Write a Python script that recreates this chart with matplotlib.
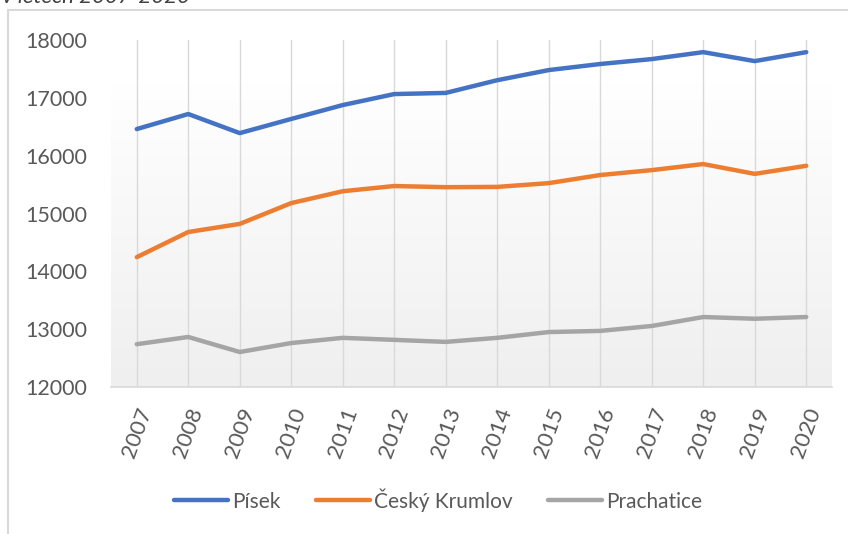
import numpy as np
import matplotlib.pyplot as plt
from matplotlib.lines import Line2D

# data
years = ['2007', '2008', '2009', '2010', '2011', '2012', '2013',
         '2014', '2015', '2016', '2017', '2018', '2019', '2020']
pisek = [16460, 16720, 16390, 16635, 16875, 17065, 17085,
         17305, 17480, 17585, 17670, 17790, 17635, 17790]
cesky_krumlov = [14245, 14680, 14820, 15180, 15385, 15475, 15455,
                 15460, 15525, 15665, 15750, 15855, 15685, 15825]
prachatice = [12740, 12865, 12605, 12760, 12850, 12815, 12780,
              12850, 12950, 12970, 13055, 13210, 13180, 13210]
series_names = ['Písek', 'Český Krumlov', 'Prachatice']
colors = ['#4472C4', '#ED7D31', '#A5A5A5']

plt.rcParams['font.family'] = ['Lato', 'DejaVu Sans']
txt = '#595959'

fig = plt.figure(figsize=(8.48, 5.34), dpi=100)
W, H = 848, 534

# chart area border (top + left visible)
fig.add_artist(Line2D([8 / W, 8 / W], [0, 1 - 10 / H], color='#d9d9d9', lw=1.5,
                      transform=fig.transFigure))
fig.add_artist(Line2D([8 / W, 1], [1 - 10 / H, 1 - 10 / H], color='#d9d9d9', lw=1.5,
                      transform=fig.transFigure))
# title above the chart box, cut off by the top edge as in the source
fig.text(2 / W, 1 + 3 / H, 'v letech 2007-2020', fontsize=16, style='italic',
         color='#404040', va='center', ha='left')

ax = fig.add_axes([111 / W, 1 - 387 / H, (832 - 111) / W, (387 - 40) / H])
x = np.arange(len(years))

# gradient background: white on top fading to light grey
grad = np.linspace(0, 1, 256).reshape(-1, 1)
grad = np.clip((grad - 0.12) / 0.88, 0, 1)
ax.imshow(grad, cmap=plt.matplotlib.colors.LinearSegmentedColormap.from_list(
    'g', ['#ffffff', '#efefef']), aspect='auto',
    extent=[-0.5, len(years) - 0.5, 12000, 18000], origin='upper', zorder=0)

for xi in x:
    ax.axvline(xi, color='#d9d9d9', lw=1, zorder=1)

for vals, name, c in zip([pisek, cesky_krumlov, prachatice], series_names, colors):
    ax.plot(x, vals, color=c, lw=3.2, solid_capstyle='round',
            solid_joinstyle='round', label=name, zorder=3)

ax.set_xlim(-0.5, len(years) - 0.5)
ax.set_ylim(12000, 18000)
ax.set_yticks(range(12000, 18001, 1000))
ax.set_xticks(x)
ax.set_xticklabels(years, rotation=70, ha='center', va='top')
ax.tick_params(axis='both', length=0, colors=txt)
ax.tick_params(axis='y', labelsize=15.5, pad=17)
ax.tick_params(axis='x', labelsize=16, pad=13)

for side in ['top', 'right', 'left']:
    ax.spines[side].set_visible(False)
ax.spines['bottom'].set_color('#d9d9d9')
ax.spines['bottom'].set_linewidth(1.2)

leg = fig.legend(loc='center', bbox_to_anchor=(438 / W, 1 - 500 / H), ncol=3,
                 frameon=False, fontsize=15, handlelength=2.6, handletextpad=0.2,
                 columnspacing=1.7)
for t in leg.get_texts():
    t.set_color(txt)

fig.savefig('out.png', dpi=100)
